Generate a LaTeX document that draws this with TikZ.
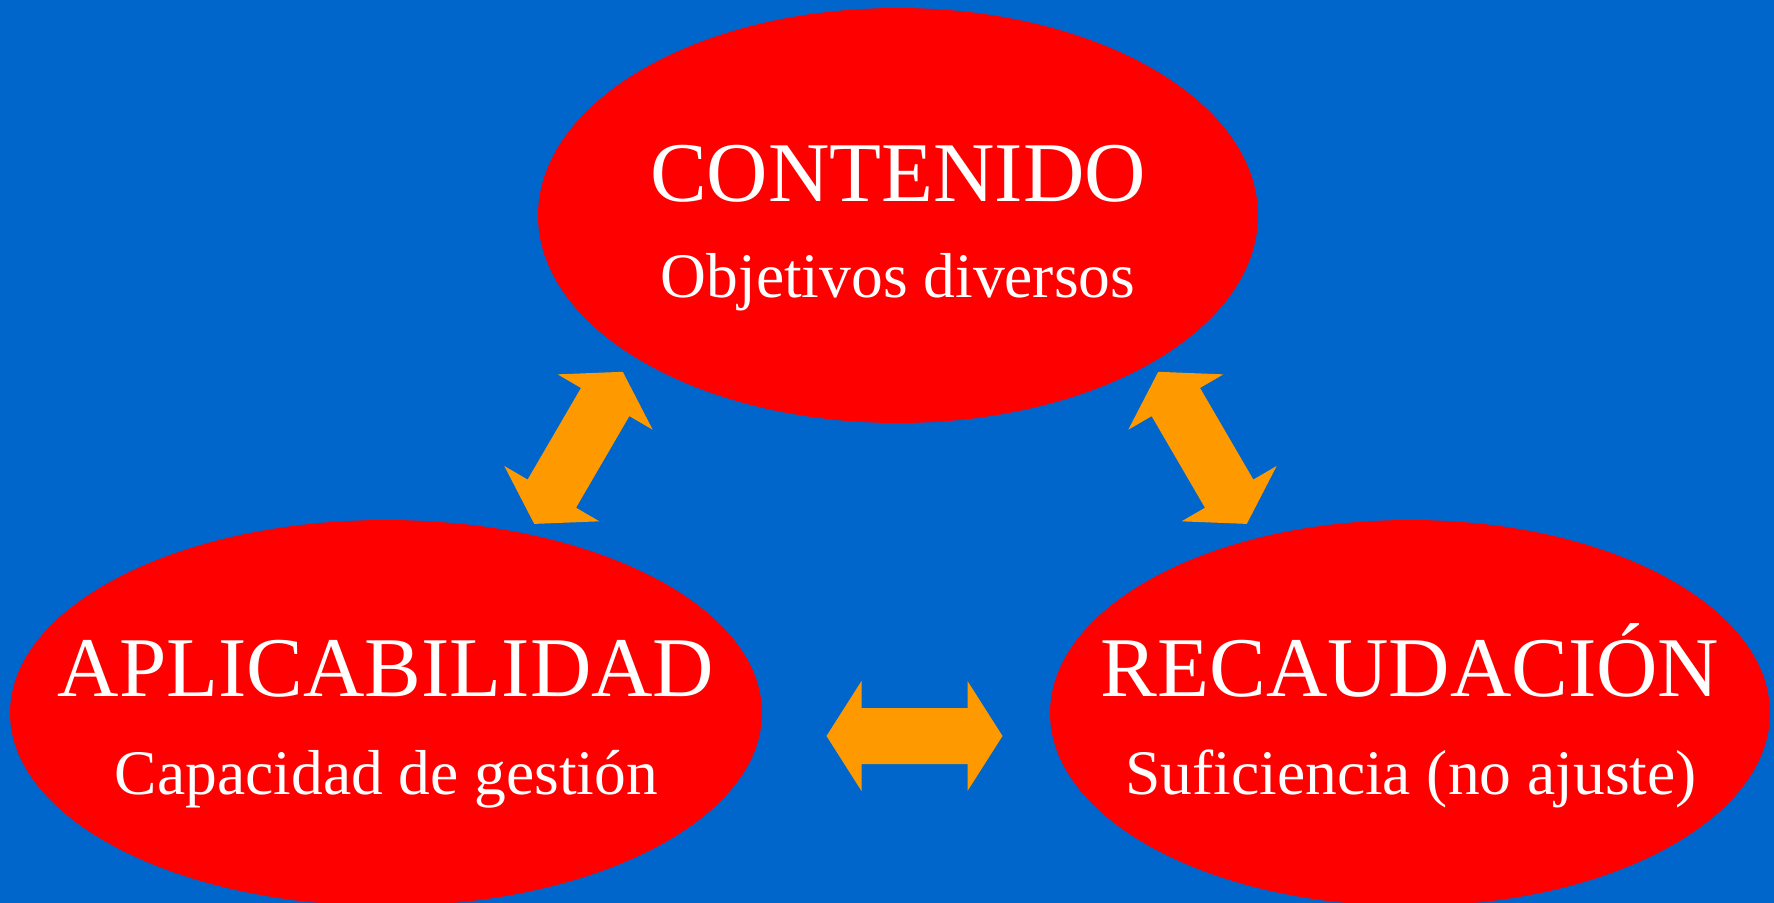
\documentclass[tikz,border=0pt]{standalone}
\usepackage{fontspec}
\setmainfont{Liberation Serif}
\usetikzlibrary{shapes.geometric}
\definecolor{bgblue}{HTML}{0066CC}
\definecolor{ovalred}{HTML}{FF0000}
\definecolor{arroworange}{HTML}{FF9900}
\tikzset{
  oval/.style={ellipse, fill=ovalred, draw=none, inner sep=0pt},
  titletext/.style={text=white, font=\fontsize{42.5}{50}\selectfont, anchor=base, inner sep=0pt},
  subtext/.style={text=white, font=\fontsize{31.75}{38}\selectfont, anchor=base, inner sep=0pt},
  dblarrow/.pic={\fill[arroworange] (-88,0) -- (-53,55) -- (-53,28) -- (53,28) -- (53,55) -- (88,0) -- (53,-55) -- (53,-28) -- (-53,-28) -- (-53,-55) -- cycle;}
}
\begin{document}
\begin{tikzpicture}[x=0.5pt,y=-0.5pt]
\fill[bgblue] (0,0) rectangle (1774,903);
\useasboundingbox (0,0) rectangle (1774,903);
\clip (0,0) rectangle (1774,903);
\node[oval, minimum width=360pt, minimum height=207.5pt] (top) at (898,215.5) {};
\node[oval, minimum width=376pt, minimum height=193pt] (left) at (386,713) {};
\node[oval, minimum width=360pt, minimum height=193pt] (right) at (1410,713) {};
\node[titletext] (contenido) at (898,202) {CONTENIDO};
\node[subtext] (objetivos) at (898,298) {Objetivos diversos};
\node[titletext] (aplic) at (386,697) {APLICABILIDAD};
\node[subtext] (capac) at (386.5,794) {Capacidad de gestión};
\node[titletext] (recaud) at (1410,697) {RECAUDACIÓN};
\node[subtext] (sufic) at (1411,794) {Suficiencia (no ajuste)};
\pic[rotate=59.8] (arrowTL) at (578.5,447.85) {dblarrow};
\pic[rotate=120.2] (arrowTR) at (1202.5,447.85) {dblarrow};
\pic (arrowLR) at (914.5,736) {dblarrow};
\end{tikzpicture}
\end{document}
